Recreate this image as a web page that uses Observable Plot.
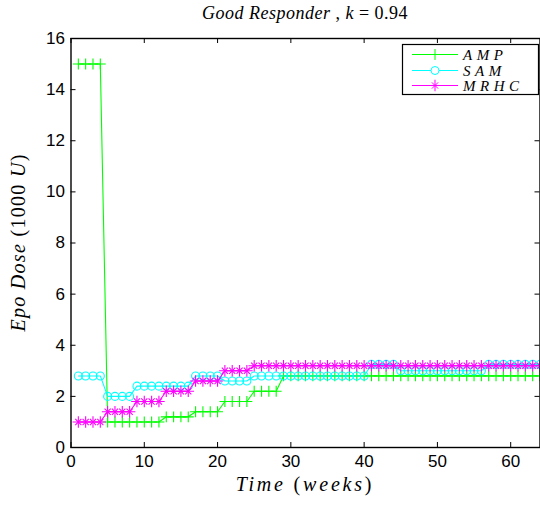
<!DOCTYPE html>
<html><head><meta charset="utf-8">
<script src="https://cdn.jsdelivr.net/npm/d3@7"></script>
<script src="https://cdn.jsdelivr.net/npm/@observablehq/plot@0.6"></script>
<style>body{margin:0;background:#fff} svg{display:block}</style>
</head><body><div id="chart"></div>
<script>
// ---- data ----
const weeks = d3.range(1, 65); // weeks 1..64
const seriesNames = ["AMP", "SAM", "MRHC"];
const seriesColors = ["#00ff00", "#00ffff", "#ff00ff"];
const ampDose = [
  15, 15, 15, 15,
  1.0, 1.0, 1.0, 1.0, 1.0, 1.0, 1.0, 1.0,
  1.2, 1.2, 1.2, 1.2,
  1.4, 1.4, 1.4, 1.4,
  1.8, 1.8, 1.8, 1.8,
  2.2, 2.2, 2.2, 2.2,
  2.8, 2.8, 2.8, 2.8, 2.8, 2.8, 2.8, 2.8, 2.8, 2.8, 2.8, 2.8,
  2.8, 2.8, 2.8, 2.8, 2.8, 2.8, 2.8, 2.8, 2.8, 2.8, 2.8, 2.8,
  2.8, 2.8, 2.8, 2.8, 2.8, 2.8, 2.8, 2.8, 2.8, 2.8, 2.8, 2.8
];
const samDose = [
  2.8, 2.8, 2.8, 2.8,
  2.0, 2.0, 2.0, 2.0,
  2.4, 2.4, 2.4, 2.4, 2.4, 2.4, 2.4, 2.4,
  2.8, 2.8, 2.8, 2.8,
  2.6, 2.6, 2.6, 2.6,
  2.8, 2.8, 2.8, 2.8, 2.8, 2.8, 2.8, 2.8, 2.8, 2.8, 2.8, 2.8, 2.8, 2.8, 2.8, 2.8,
  3.25, 3.25, 3.25, 3.25,
  3.0, 3.0, 3.0, 3.0, 3.0, 3.0, 3.0, 3.0, 3.0, 3.0, 3.0, 3.0,
  3.25, 3.25, 3.25, 3.25, 3.25, 3.25, 3.25, 3.25
];
const mrhcDose = [
  1.0, 1.0, 1.0, 1.0,
  1.4, 1.4, 1.4, 1.4,
  1.8, 1.8, 1.8, 1.8,
  2.2, 2.2, 2.2, 2.2,
  2.6, 2.6, 2.6, 2.6,
  3.0, 3.0, 3.0, 3.0,
  3.2, 3.2, 3.2, 3.2, 3.2, 3.2, 3.2, 3.2, 3.2, 3.2,
  3.2, 3.2, 3.2, 3.2, 3.2, 3.2, 3.2, 3.2, 3.2, 3.2,
  3.2, 3.2, 3.2, 3.2, 3.2, 3.2, 3.2, 3.2, 3.2, 3.2,
  3.2, 3.2, 3.2, 3.2, 3.2, 3.2, 3.2, 3.2, 3.2, 3.2
];
const xTicks = [0, 10, 20, 30, 40, 50, 60];
const yTicks = [0, 2, 4, 6, 8, 10, 12, 14, 16];

const doses = [ampDose, samDose, mrhcDose];
const table = seriesNames.map((s, i) => weeks.map((w, j) => ({week: w, dose: doses[i][j], series: s})));

// ---- layout ----
const W = 540, H = 505;
const mL = 70.5, mR = 0.5, mT = 38, mB = 58;
const innerW = W - mL - mR, innerH = H - mT - mB;
const serif = "'Liberation Serif', 'Times New Roman', serif";

const seriesMarks = [];
table.forEach((rows, i) => {
  const c = seriesColors[i];
  seriesMarks.push(Plot.line(rows, {x: "week", y: "dose", stroke: c, strokeWidth: 1.1}));
  if (i === 0) seriesMarks.push(Plot.dot(rows, {x: "week", y: "dose", symbol: "plus", r: 3.6, stroke: c, strokeWidth: 1.1}));
  if (i === 1) seriesMarks.push(Plot.dot(rows, {x: "week", y: "dose", symbol: "circle", r: 4, stroke: c, fill: "none", strokeWidth: 1.1}));
  if (i === 2) {
    seriesMarks.push(Plot.dot(rows, {x: "week", y: "dose", symbol: "plus", r: 3.8, stroke: c, strokeWidth: 1.1}));
    seriesMarks.push(Plot.dot(rows, {x: "week", y: "dose", symbol: "times", r: 2.9, stroke: c, strokeWidth: 1.1}));
  }
});

const svgEl = Plot.plot({
  width: W, height: H,
  marginLeft: mL, marginRight: mR, marginTop: mT, marginBottom: mB,
  x: {domain: [0, 64], label: null},
  y: {domain: [0, 16], label: null},
  style: {fontFamily: "'Liberation Sans', Arial, sans-serif", fontSize: "17px", background: "#fff", color: "#000", overflow: "visible"},
  marks: [
    Plot.axisX(xTicks, {tickSize: 0, tickPadding: 7, label: null}),
    Plot.axisY(yTicks, {tickSize: 0, tickPadding: 6, label: null}),
    Plot.tickX(xTicks, {x: d => d, insetTop: innerH - 5, stroke: "#000"}),
    Plot.tickX(xTicks, {x: d => d, insetBottom: innerH - 5, stroke: "#000"}),
    Plot.tickY(yTicks, {y: d => d, insetRight: innerW - 5, stroke: "#000"}),
    Plot.tickY(yTicks, {y: d => d, insetLeft: innerW - 5, stroke: "#000"}),
    ...seriesMarks,
    Plot.frame({stroke: "#000", strokeWidth: 1.4})
  ]
});
document.getElementById("chart").appendChild(svgEl);

const svg = d3.select(svgEl);
function richText(parent, parts) {
  parts.forEach(([t, italic]) => {
    parent.append("tspan").attr("font-style", italic ? "italic" : "normal").text(t);
  });
}
// title
const cx = mL + innerW / 2;
const title = svg.append("text").attr("x", cx).attr("y", 19).attr("text-anchor", "middle")
  .attr("font-family", serif).attr("font-size", 18).attr("letter-spacing", "0.5px");
richText(title, [["Good Responder", true], [" , ", false], ["k", true], [" = 0.94", false]]);
// x label
const xl = svg.append("text").attr("x", cx).attr("y", 491).attr("text-anchor", "middle")
  .attr("font-family", serif).attr("font-size", 20).attr("letter-spacing", "2.8px");
richText(xl, [["Time", true], [" (", false], ["weeks", true], [")", false]]);
// y label
const yl = svg.append("text").attr("transform", `translate(25,${mT + innerH / 2}) rotate(-90)`)
  .attr("text-anchor", "middle").attr("font-family", serif).attr("font-size", 20).attr("letter-spacing", "1.3px");
richText(yl, [["Epo Dose", true], [" (1000 ", false], ["U", true], [")", false]]);

// legend
const lg = svg.append("g");
lg.append("rect").attr("x", 402.5).attr("y", 44.5).attr("width", 136).attr("height", 50)
  .attr("fill", "#fff").attr("stroke", "#000").attr("stroke-width", 1.2);
const rowsY = [54.5, 70.5, 85.5];
seriesNames.forEach((name, i) => {
  const y = rowsY[i], c = seriesColors[i];
  lg.append("line").attr("x1", 412).attr("x2", 458).attr("y1", y).attr("y2", y).attr("stroke", c).attr("stroke-width", 1.2);
  if (i === 0) lg.append("path").attr("transform", `translate(435,${y})`).attr("d", d3.symbol(d3.symbolPlus, Math.PI * 3.6 * 3.6)()).attr("fill", "none").attr("stroke", c);
  if (i === 1) lg.append("circle").attr("cx", 435).attr("cy", y).attr("r", 4).attr("fill", "#fff").attr("stroke", c);
  if (i === 2) {
    lg.append("path").attr("transform", `translate(435,${y})`).attr("d", d3.symbol(d3.symbolPlus, Math.PI * 3.8 * 3.8)()).attr("fill", "none").attr("stroke", c);
    lg.append("path").attr("transform", `translate(435,${y})`).attr("d", d3.symbol(d3.symbolTimes, Math.PI * 2.9 * 2.9)()).attr("fill", "none").attr("stroke", c);
  }
  lg.append("text").attr("x", 463).attr("y", y + 5).attr("text-anchor", "start").attr("font-family", serif).attr("font-style", "italic")
    .attr("font-size", 15).attr("letter-spacing", "4.5px").text(name);
});
</script>
</body></html>
